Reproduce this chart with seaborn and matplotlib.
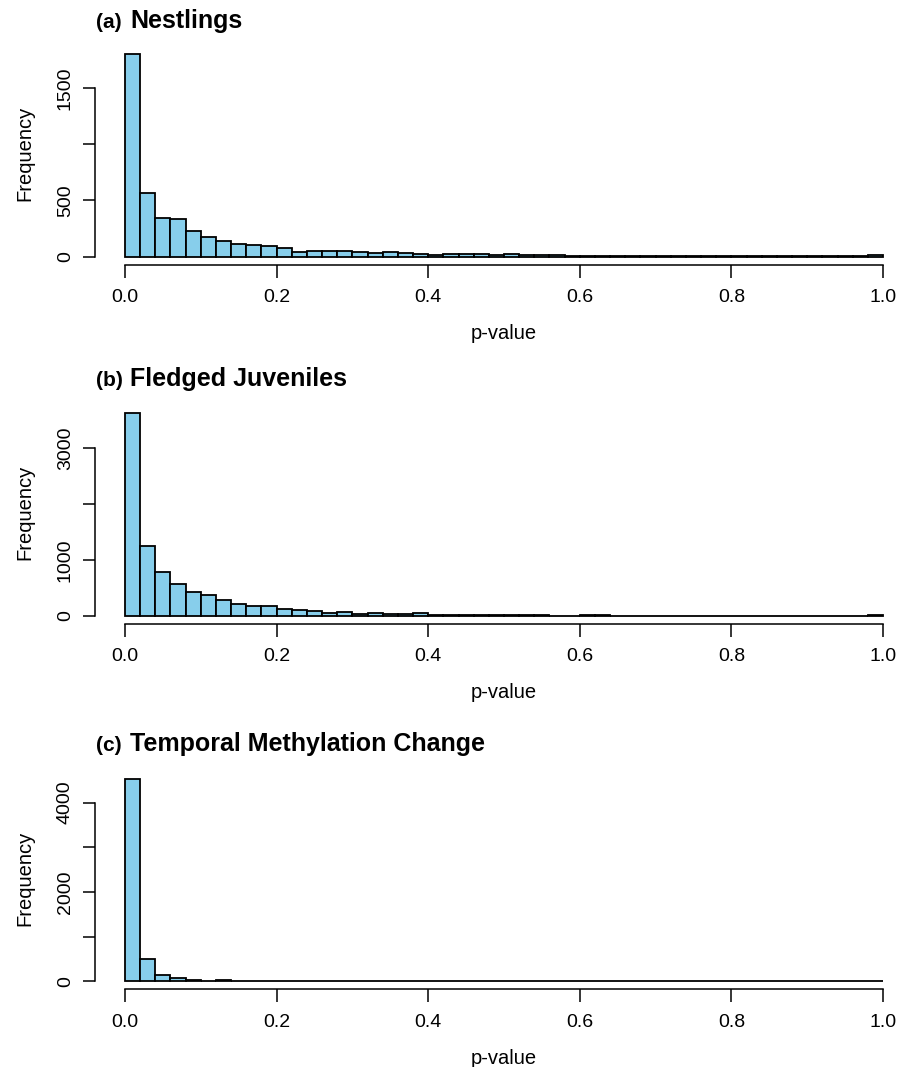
import numpy as np
import pandas as pd
import matplotlib
matplotlib.use("Agg")
import matplotlib.pyplot as plt
import seaborn as sns

# ---- data: histogram counts, 50 bins of width 0.02 on [0, 1] ----
bin_edges = [round(0.02 * k, 2) for k in range(51)]

counts_nestlings = [
    1800, 566, 346, 332, 225, 172, 142, 113, 107, 95,
    74, 40, 53, 53, 55, 44, 32, 38, 30, 24,
    18, 24, 20, 20, 14, 22, 14, 16, 12, 10,
    8, 9, 8, 6, 5, 5, 6, 5, 4, 5,
    6, 5, 5, 8, 6, 5, 4, 6, 5, 18,
]
counts_fledged = [
    3630, 1253, 793, 573, 430, 382, 287, 215, 185, 172,
    128, 100, 85, 62, 65, 36, 55, 35, 35, 50,
    22, 18, 14, 12, 12, 10, 10, 9, 8, 8,
    10, 12, 8, 6, 6, 5, 5, 5, 5, 4,
    5, 5, 4, 4, 5, 4, 5, 6, 8, 22,
]
counts_temporal = [
    4530, 493, 145, 67, 40, 12, 30, 10, 8, 8,
    6, 5, 5, 4, 4, 4, 3, 3, 3, 3,
    3, 3, 3, 3, 3, 3, 3, 3, 3, 3,
    3, 3, 3, 3, 3, 3, 3, 3, 3, 3,
    3, 3, 3, 3, 3, 3, 3, 3, 3, 3,
]

panel_letters = ["(a)", "(b)", "(c)"]
panel_titles = ["Nestlings", "Fledged Juveniles", "Temporal Methylation Change"]
x_ticks = [0.0, 0.2, 0.4, 0.6, 0.8, 1.0]
x_tick_labels = ["0.0", "0.2", "0.4", "0.6", "0.8", "1.0"]
y_ticks = [[0, 500, 1000, 1500], [0, 1000, 2000, 3000], [0, 1000, 2000, 3000, 4000]]
y_tick_labels = [["0", "500", "", "1500"], ["0", "1000", "", "3000"],
                 ["0", "", "2000", "", "4000"]]
x_label = "p-value"
y_label = "Frequency"

# ---- style ----
sns.set_theme(style="white")
plt.rcParams["font.family"] = ["Liberation Sans", "DejaVu Sans"]
plt.rcParams["text.color"] = "black"
plt.rcParams["axes.labelcolor"] = "black"
plt.rcParams["xtick.color"] = "black"
plt.rcParams["ytick.color"] = "black"

W, H = 912, 1067
fig = plt.figure(figsize=(W / 100, H / 100), dpi=100)

# panel pixel boxes (top, bottom) of plotting region
boxes = [(46.0, 264.8), (405.1, 624.1), (770.9, 989.4)]
left_px, right_px = 94.7, 913.3
title_base = [28.0, 386.0, 751.0]

all_counts = [counts_nestlings, counts_fledged, counts_temporal]
centers = [(bin_edges[k] + bin_edges[k + 1]) / 2 for k in range(50)]

for i, counts in enumerate(all_counts):
    top, bot = boxes[i]
    ax = fig.add_axes([left_px / W, 1 - bot / H, (right_px - left_px) / W, (bot - top) / H])
    df = pd.DataFrame({"p": centers, "n": counts})
    sns.histplot(data=df, x="p", weights="n", bins=bin_edges, ax=ax,
                 color="#87CEEB", edgecolor="black", linewidth=1.3, alpha=1.0)
    ymax = max(counts)
    ax.set_xlim(-0.04, 1.04)
    ax.set_ylim(-0.04 * ymax, 1.04 * ymax)
    for s in ["top", "right"]:
        ax.spines[s].set_visible(False)
    ax.spines["left"].set_bounds(y_ticks[i][0], y_ticks[i][-1])
    ax.spines["bottom"].set_bounds(0, 1)
    for s in ["left", "bottom"]:
        ax.spines[s].set_linewidth(1.1)
        ax.spines[s].set_color("black")
    ax.set_xticks(x_ticks)
    ax.set_xticklabels(x_tick_labels)
    ax.set_yticks(y_ticks[i])
    ax.set_yticklabels(y_tick_labels[i], rotation=90, va="center")
    ax.tick_params(axis="both", direction="out", length=9, width=1.1,
                   colors="black", labelsize=14, left=True, bottom=True)
    ax.tick_params(axis="x", pad=8.5)
    ax.tick_params(axis="y", pad=6)
    ax.set_xlabel(x_label, fontsize=14.5, labelpad=13)
    ax.set_ylabel("")
    ax.grid(False)
    ax.patch.set_alpha(0)
    # y label
    fig.text(25 / W, 1 - ((top + bot) / 2 - 2) / H, y_label, rotation=90,
             ha="center", va="center", fontsize=14.5)
    # titles
    fig.text(96 / W, 1 - title_base[i] / H, panel_letters[i], fontsize=15,
             fontweight="bold", ha="left", va="baseline")
    fig.text(130 / W, 1 - title_base[i] / H, panel_titles[i], fontsize=18,
             fontweight="bold", ha="left", va="baseline")

fig.savefig("out.png", dpi=100, facecolor="white")
